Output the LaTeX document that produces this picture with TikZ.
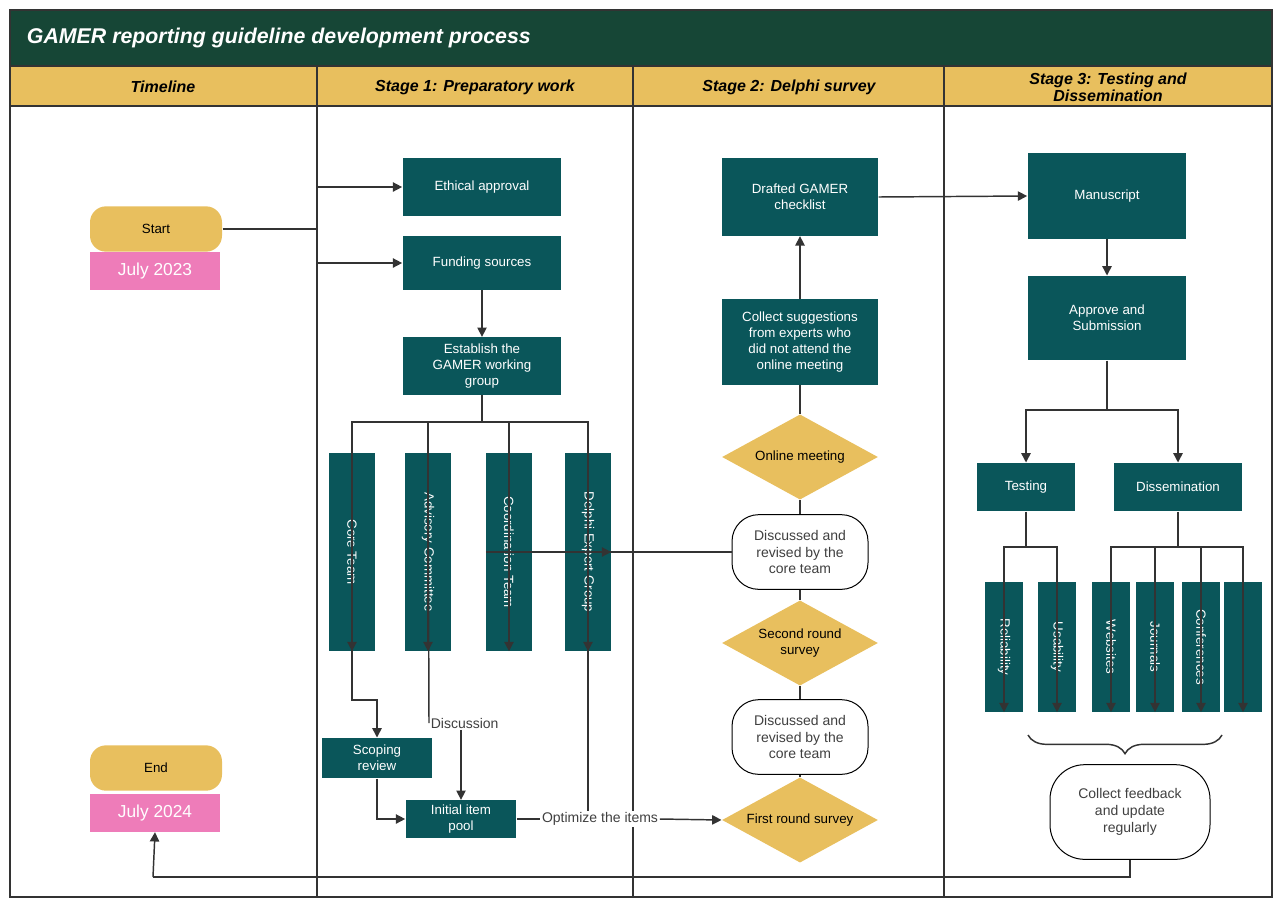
\documentclass[tikz,border=0pt]{standalone}
\usepackage{fontspec}
\setmainfont{Liberation Sans}
\usetikzlibrary{shapes.geometric,arrows.meta,decorations.pathreplacing}
\definecolor{tealbox}{RGB}{10,86,90}
\definecolor{darkgreen}{RGB}{22,70,54}
\definecolor{gold}{RGB}{232,191,94}
\definecolor{pinkbox}{RGB}{238,124,185}
\tikzset{every picture/.style={line width=0.75pt}}
\tikzset{
  tbox/.style={fill=tealbox,text=white,align=center,inner sep=1pt,font=\fontsize{10}{12}\selectfont},
  bar/.style={tbox,rotate=-90,minimum width=148pt,minimum height=34pt},
  sbar/.style={tbox,rotate=-90,minimum width=97pt,minimum height=29pt},
  gdiam/.style={shape=diamond,fill=gold,aspect=1.8,inner sep=0pt,minimum width=117pt,minimum height=64pt,font=\fontsize{10}{12}\selectfont,align=center},
  rbox/.style={draw,rounded corners=20pt,fill=white,align=center,minimum width=102pt,minimum height=56pt,inner sep=1pt,font=\fontsize{10.5}{12.5}\selectfont,text=black!75},
  hdr/.style={font=\fontsize{12}{13}\selectfont\bfseries\itshape,align=center},
  conn/.style={line width=1.1pt,black!80},
  arr/.style={conn,-{Triangle[length=7pt,width=7pt]}},
  lbl/.style={fill=white,inner sep=1pt,font=\fontsize{10.5}{12}\selectfont,text=black!75}
}
\begin{document}
\begin{tikzpicture}[x=0.75pt,y=0.75pt,yscale=-1,xscale=1]
\useasboundingbox (0,0) rectangle (1280,907);
%Frame and lanes
\fill[darkgreen] (10,10) rectangle (1272,66);
\fill[gold] (10,66) rectangle (1272,106);
\draw[line width=1.5pt,black!80] (10,10) rectangle (1272,897);
\draw[line width=1.2pt,black!80] (10,66) -- (1272,66) (10,106) -- (1272,106);
\foreach \x in {317,633,944} \draw[line width=1.2pt,black!80] (\x,66) -- (\x,897);
\node[anchor=west,text=white,font=\fontsize{16}{18}\selectfont\bfseries\itshape] (title) at (22,38) {GAMER reporting guideline development process};
\node[hdr] (h0) at (163,87) {Timeline};
\node[hdr] (h1) at (475,87) {Stage 1: Preparatory work};
\node[hdr] (h2) at (789,87) {Stage 2: Delphi survey};
\node[hdr] (h3) at (1108,87) {Stage 3: Testing and\\Dissemination};

%Timeline
\node[fill=gold,rounded corners=12pt,minimum width=99pt,minimum height=34pt,font=\fontsize{10}{12}\selectfont] (start) at (156,229) {Start};
\node[fill=pinkbox,text=white,minimum width=97pt,minimum height=28pt,font=\fontsize{13}{14}\selectfont] (jul23) at (155,271) {July 2023};
\node[fill=gold,rounded corners=12pt,minimum width=99pt,minimum height=34pt,font=\fontsize{10}{12}\selectfont] (end) at (156,768) {End};
\node[fill=pinkbox,text=white,minimum width=97pt,minimum height=28pt,font=\fontsize{13}{14}\selectfont] (jul24) at (155,813) {July 2024};

%Stage 1
\node[tbox,minimum width=119pt,minimum height=43pt] (ethic) at (482,187) {Ethical approval};
\node[tbox,minimum width=119pt,minimum height=40pt] (fund) at (482,263) {Funding sources};
\node[tbox,minimum width=119pt,minimum height=43pt] (group) at (482,366) {Establish the\\GAMER working\\group};
\node[bar] (core) at (352,552) {Core Team};
\node[bar] (advis) at (428,552) {Advisory Committee};
\node[bar] (coord) at (509,552) {Coordination Team};
\node[bar] (delphi) at (588,552) {Delphi Expert Group};
\node[tbox,minimum width=83pt,minimum height=30pt] (scope) at (377,758) {Scoping\\review};
\node[tbox,minimum width=83pt,minimum height=28pt] (pool) at (461,819) {Initial item\\pool};
\node[lbl,anchor=west] (disc) at (429,723) {Discussion};
\node[lbl] (optim) at (600,819) {Optimize the items};

%Stage 2
\node[tbox,minimum width=117pt,minimum height=58pt] (draft) at (800,197) {Drafted GAMER\\checklist};
\node[tbox,minimum width=117pt,minimum height=64pt] (collect) at (800,342) {Collect suggestions\\from experts who\\did not attend the\\online meeting};
\node[gdiam] (online) at (800,457) {Online meeting};
\node[rbox] (rev1) at (800,552) {Discussed and\\revised by the\\core team};
\node[gdiam] (second) at (800,643) {Second round\\survey};
\node[rbox] (rev2) at (800,737) {Discussed and\\revised by the\\core team};
\node[gdiam] (first) at (800,820) {First round survey};

%Stage 3
\node[tbox,minimum width=119pt,minimum height=64pt] (manu) at (1107,196) {Manuscript};
\node[tbox,minimum width=119pt,minimum height=63pt] (approve) at (1107,318) {Approve and\\Submission};
\node[tbox,minimum width=73pt,minimum height=36pt] (test) at (1026,487) {Testing};
\node[tbox,minimum width=96pt,minimum height=36pt] (dissem) at (1178,487) {Dissemination};
\node[sbar] (relia) at (1004,647) {Reliability};
\node[sbar] (usab) at (1057,647) {Usability};
\node[sbar] (web) at (1111,647) {Websites};
\node[sbar] (journ) at (1155,647) {Journals};
\node[sbar] (conf) at (1201,647) {Conferences};
\node[sbar] (etc) at (1243,647) {...};
\node[rbox,minimum width=120pt,minimum height=71pt,rounded corners=26pt] (feed) at (1130,812) {Collect feedback\\and update\\regularly};
\coordinate (bl) at (1028,735);
\coordinate (br) at (1222,735);

%Connectors
\draw[conn] (start.east) -- (317,229);
\draw[arr] (317,229) |- (ethic.west);
\draw[arr] (317,229) |- (fund.west);
\draw[arr] (fund) -- (group);
\draw[conn] (group.south) -- (482,422);
\foreach \n in {core,advis,coord,delphi} \draw[arr] (482,422) -| (\n.east);
\draw[arr] (core.west) |- (377,700) -- (scope.north);
\draw[conn] (advis.west) -- (disc.west);
\draw[arr] (disc.south -| pool.north) -- (pool.north);
\draw[arr] (scope.south) |- (pool.west);
\draw[conn] (pool.east) -- (optim.west);
\draw[arr] (optim.east) -- (first.west);
\draw[conn] (delphi.west) -- (delphi.west |- optim.north);
\draw[arr] (coord.south) -- (delphi.north);
\draw[conn] (delphi.south) -- (rev1.west);
\draw[conn] (first) -- (rev2) -- (second) -- (rev1) -- (online) -- (collect);
\draw[arr] (collect) -- (draft);
\draw[arr] (draft.east) -- (manu.west);
\draw[arr] (manu) -- (approve);
\draw[conn] (approve.south) -- (1107,410);
\draw[arr] (1107,410) -| (test.north);
\draw[arr] (1107,410) -| (dissem.north);
\draw[conn] (test.south) -- (1026,547);
\foreach \n in {relia,usab} \draw[arr] (1026,547) -| (\n.east);
\draw[conn] (dissem.south) -- (1178,547);
\foreach \n in {web,journ,conf,etc} \draw[arr] (1178,547) -| (\n.east);
\draw[conn,decorate,decoration={brace,mirror,amplitude=14pt}] (bl) -- (br);
\draw[conn] (feed.south) |- (153,877);
\draw[arr] (153,877) -- (jul24.south);
\end{tikzpicture}
\end{document}
